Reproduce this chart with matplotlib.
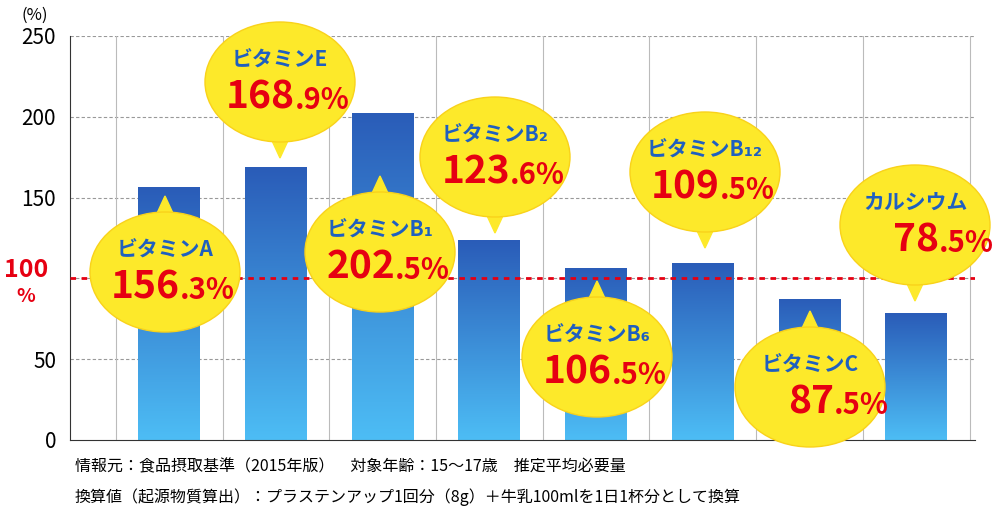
import numpy as np
import matplotlib
matplotlib.use('Agg')
import matplotlib.pyplot as plt
from matplotlib.patches import Ellipse, Polygon
from matplotlib.colors import LinearSegmentedColormap

plt.rcParams['font.family'] = ['Noto Sans CJK JP', 'DejaVu Sans']

names = ['ビタミンA', 'ビタミンE', 'ビタミンB₁', 'ビタミンB₂', 'ビタミンB₆', 'ビタミンB₁₂', 'ビタミンC', 'カルシウム']
values = [156.3, 168.9, 202.5, 123.6, 106.5, 109.5, 87.5, 78.5]
yticks = [0, 50, 100, 150, 200, 250]
notes = ['情報元：食品摂取基準（2015年版）　対象年齢：15〜17歳　推定平均必要量',
         '換算値（起源物質算出）：プラステンアップ1回分（8g）＋牛乳100mlを1日1杯分として換算']
# bubble centre (px from left/top), pointer direction (+1 up, -1 down)
bubbles = [(165, 272, 1), (280, 82, -1), (380, 252, 1), (495, 157, -1),
           (597, 357, 1), (705, 172, -1), (810, 387, 1), (915, 225, -1)]

W, H = 995, 514
fig = plt.figure(figsize=(W / 100, H / 100), dpi=100)
ax = fig.add_axes([70 / W, 1 - 440 / H, 905 / W, 404 / H])

cmap = LinearSegmentedColormap.from_list('b', ['#4dbdf5', '#2a5cb8'])
grad = np.linspace(0, 1, 256).reshape(-1, 1)
for i, v in enumerate(values):
    bars = ax.bar(i, v, width=0.58, color='none', zorder=2)
    im = ax.imshow(grad, extent=(i - 0.29, i + 0.29, 0, v), origin='lower',
                   cmap=cmap, aspect='auto', zorder=2)
    im.set_clip_path(bars[0])
ax.set_xlim(-0.93, 7.55)
ax.set_ylim(0, 250)

for y in yticks[1:]:
    ax.axhline(y, color='#999999', ls=(0, (3, 2)), lw=0.8, zorder=1)
for x in np.arange(-0.5, 7.6, 1):
    ax.axvline(x, color='#bbbbbb', lw=0.8, zorder=1)
ax.axhline(100, color='#e60012', ls=(0, (2, 2)), lw=2, zorder=3)

for s in ['top', 'right']:
    ax.spines[s].set_visible(False)
ax.spines['left'].set_color('#333333')
ax.spines['bottom'].set_color('#333333')
ax.set_xticks([])
ax.set_yticks(yticks)
ax.set_yticklabels([str(t) if t != 100 else '' for t in yticks], fontsize=15)
ax.tick_params(axis='y', length=0, pad=10)
fig.text(35 / W, 1 - 15 / H, '(%)', fontsize=12, ha='center', va='center')
fig.text(26 / W, 1 - 270 / H, '100', fontsize=18, color='#e60012', weight='bold', ha='center', va='center')
fig.text(26 / W, 1 - 296 / H, '%', fontsize=14, color='#e60012', weight='bold', ha='center', va='center')

def fx(px):
    return px / W

def fy(py):
    return 1 - py / H

for (cx, cy, d), n, v in zip(bubbles, names, values):
    tip = cy - d * 76
    base = cy - d * 50
    fig.patches.append(Polygon([(fx(cx - 12), fy(base)), (fx(cx + 12), fy(base)), (fx(cx), fy(tip))],
                               closed=True, transform=fig.transFigure, color='#fde92a', zorder=5))
    fig.patches.append(Ellipse((fx(cx), fy(cy)), 150 / W, 120 / H, transform=fig.transFigure,
                               facecolor='#fde92a', edgecolor='#f9d21a', lw=1, zorder=5))
    fig.text(fx(cx), fy(cy - 22), n, fontsize=15, color='#1f5fc0', weight='bold',
             ha='center', va='center', zorder=6)
    ip, dp = f'{v:.1f}'.split('.')
    off = 15 if len(ip) == 3 else 24
    fig.text(fx(cx + off), fy(cy + 15), ip, fontsize=28, color='#e60012', weight='bold',
             ha='right', va='center', zorder=6)
    fig.text(fx(cx + off), fy(cy + 18), '.' + dp + '%', fontsize=21, color='#e60012', weight='bold',
             ha='left', va='center', zorder=6)

fig.text(75 / W, fy(467), notes[0], fontsize=11.5, va='center')
fig.text(75 / W, fy(497), notes[1], fontsize=11.5, va='center')

fig.savefig('out.png', dpi=100)
